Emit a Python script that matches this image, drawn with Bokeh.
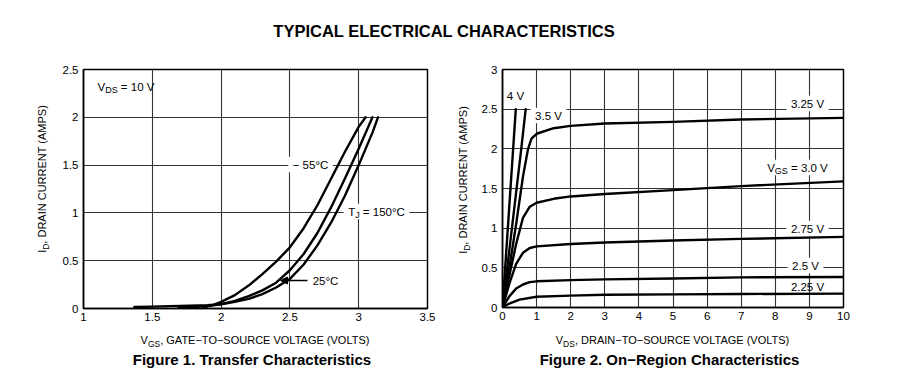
import math
from bokeh.plotting import figure
from bokeh.models import Label, Div, FixedTicker, Arrow, NormalHead, BoxAnnotation
from bokeh.layouts import column, row
from bokeh.embed import file_html
from bokeh.resources import INLINE

TITLE = "TYPICAL ELECTRICAL CHARACTERISTICS"

# ---------------- Figure 1: transfer characteristics (VDS = 10 V) ----------------
vgs_m55 = [1.87, 1.95, 2.0, 2.1, 2.2, 2.3, 2.4, 2.5, 2.6, 2.7, 2.8, 2.9, 3.0, 3.05]
id_m55 = [0.01, 0.04, 0.07, 0.14, 0.24, 0.36, 0.49, 0.64, 0.84, 1.08, 1.36, 1.64, 1.9, 2.0]
vgs_25 = [1.69, 1.8, 1.9, 2.0, 2.1, 2.2, 2.3, 2.4, 2.5, 2.6, 2.7, 2.8, 2.9, 3.0, 3.1]
id_25 = [0.01, 0.015, 0.025, 0.045, 0.08, 0.13, 0.19, 0.27, 0.40, 0.57, 0.79, 1.06, 1.36, 1.67, 2.0]
vgs_150 = [1.37, 1.5, 1.7, 1.9, 2.0, 2.1, 2.2, 2.3, 2.4, 2.5, 2.6, 2.7, 2.8, 2.9, 3.0, 3.1, 3.14]
id_150 = [0.015, 0.02, 0.027, 0.035, 0.045, 0.07, 0.1, 0.15, 0.22, 0.31, 0.46, 0.66, 0.9, 1.18, 1.5, 1.84, 2.0]

f1_xticks = [1, 1.5, 2, 2.5, 3, 3.5]
f1_xlabels = ["1", "1.5", "2", "2.5", "3", "3.5"]
f1_yticks = [0, 0.5, 1, 1.5, 2, 2.5]
f1_ylabels = ["0", "0.5", "1", "1.5", "2", "2.5"]

# ---------------- Figure 2: on-region characteristics ----------------
vds_400 = [0, 0.2, 0.39]
id_400 = [0, 1.28, 2.5]
vds_350 = [0, 0.2, 0.4, 0.55, 0.68]
id_350 = [0, 0.72, 1.45, 2.0, 2.5]
vds_325 = [0, 0.2, 0.4, 0.6, 0.75, 0.85, 1.0, 1.5, 2, 3, 5, 7, 10]
id_325 = [0, 0.5, 1.05, 1.65, 2.0, 2.13, 2.19, 2.26, 2.29, 2.32, 2.34, 2.37, 2.39]
vds_300 = [0, 0.2, 0.4, 0.6, 0.8, 1.0, 1.5, 2, 3, 5, 7, 10]
id_300 = [0, 0.4, 0.8, 1.13, 1.27, 1.32, 1.37, 1.40, 1.43, 1.48, 1.53, 1.59]
vds_275 = [0, 0.2, 0.4, 0.6, 0.8, 1.0, 2, 3, 5, 7, 10]
id_275 = [0, 0.3, 0.55, 0.69, 0.75, 0.77, 0.80, 0.82, 0.845, 0.865, 0.89]
vds_250 = [0, 0.2, 0.4, 0.6, 0.8, 1.0, 2, 3, 5, 7, 10]
id_250 = [0, 0.14, 0.24, 0.29, 0.32, 0.33, 0.345, 0.355, 0.365, 0.38, 0.385]
vds_225 = [0, 0.2, 0.5, 1.0, 2, 3, 5, 7, 10]
id_225 = [0, 0.05, 0.1, 0.135, 0.15, 0.16, 0.165, 0.17, 0.175]

f2_xticks = [0, 1, 2, 3, 4, 5, 6, 7, 8, 9, 10]
f2_xlabels = ["0", "1", "2", "3", "4", "5", "6", "7", "8", "9", "10"]
f2_yticks = [0, 0.5, 1, 1.5, 2, 2.5, 3]
f2_ylabels = ["0", "0.5", "1", "1.5", "2", "2.5", "3"]

# ---------------- styling helpers ----------------
SANS = "Liberation Sans"
W = {' ': 278, ',': 278, '.': 278, '=': 584, '(': 333, ')': 333, '°': 400, '−': 584,
     'A': 667, 'B': 667, 'C': 722, 'D': 722, 'E': 667, 'F': 611, 'G': 778, 'H': 722,
     'I': 278, 'J': 500, 'K': 667, 'L': 556, 'M': 833, 'N': 722, 'O': 778, 'P': 667,
     'Q': 778, 'R': 722, 'S': 667, 'T': 611, 'U': 722, 'V': 667, 'W': 944, 'X': 667,
     'Y': 667, 'Z': 611}


def tw(s, size):
    return sum(W.get(c, 556) for c in s) * size / 1000.0


TOP_H = 48          # title strip height
YL1_W, YL2_W = 50, 40
B1 = dict(bl=33, br=10, bt=20, bb=22)
FW1, FH1 = 344, 239
B2 = dict(bl=25, br=20, bt=21, bb=22)
FW2, FH2 = 341, 238
ROW_H = B1["bt"] + FH1 + B1["bb"]


class Geo:
    def __init__(self, fx0, fy0, fw, fh, xr, yr):
        self.fx0, self.fy0, self.fw, self.fh, self.xr, self.yr = fx0, fy0, fw, fh, xr, yr

    def x(self, px):
        return self.xr[0] + (px - self.fx0) / self.fw * (self.xr[1] - self.xr[0])

    def y(self, py):
        return self.yr[0] + (self.fy0 + self.fh - py) / self.fh * (self.yr[1] - self.yr[0])


def make_fig(xr, yr, xt, xl, yt, yl, fw, fh, b):
    p = figure(output_backend="svg", toolbar_location=None, x_range=xr, y_range=yr,
               frame_width=fw, frame_height=fh, min_border_left=b["bl"],
               min_border_right=b["br"], min_border_top=b["bt"], min_border_bottom=b["bb"])
    p.xaxis.ticker = FixedTicker(ticks=xt)
    p.yaxis.ticker = FixedTicker(ticks=yt)
    p.xaxis.major_label_overrides = {t: s for t, s in zip(xt, xl)}
    p.yaxis.major_label_overrides = {t: s for t, s in zip(yt, yl)}
    for ax in (p.xaxis[0], p.yaxis[0]):
        ax.major_tick_line_color = None
        ax.minor_tick_line_color = None
        ax.major_tick_out = 0
        ax.major_tick_in = 0
        ax.axis_line_color = "black"
        ax.axis_line_width = 1.5
        ax.major_label_text_font = SANS
        ax.major_label_text_font_size = "11.5px"
        ax.major_label_text_color = "black"
    p.xaxis.major_label_standoff = 4
    p.yaxis.major_label_standoff = 5
    p.grid.grid_line_color = "#333333"
    p.grid.grid_line_width = 1.1
    p.outline_line_color = "black"
    p.outline_line_width = 1.5
    p.background_fill_color = "white"
    p.border_fill_color = "white"
    return p


def mask(p, g, cx, cy, w, h):
    p.add_layout(BoxAnnotation(left=g.x(cx - w / 2), right=g.x(cx + w / 2),
                               bottom=g.y(cy + h / 2), top=g.y(cy - h / 2),
                               fill_color="white", fill_alpha=1.0, line_color=None,
                               level="underlay"))


def rich(p, g, px, py, parts, size=11.5, align="center", masked=False):
    subk = 0.78
    widths = [tw(t, size * subk if s else size) for t, s in parts]
    total = sum(widths)
    start = {"left": 0.0, "center": -total / 2.0, "right": -total}[align]
    if masked:
        mask(p, g, px + start + total / 2.0, py, total + 9, size + 4)
    pos = start
    x, y = g.x(px), g.y(py)
    for (t, s), w in zip(parts, widths):
        fs = size * subk if s else size
        lead = len(t) - len(t.lstrip(" "))
        core = t.strip(" ")
        shift = -0.28 * size if s else 0.0
        p.add_layout(Label(x=x, y=y, x_offset=pos + tw(" " * lead, fs), y_offset=shift,
                           text=core, text_align="left", text_baseline="middle",
                           text_font=SANS, text_font_size=f"{fs:.1f}px",
                           text_color="black"))
        pos += w


CURVE = dict(line_color="black", line_width=2.4, line_join="round", line_cap="round")

# ---------------- Figure 1 ----------------
p1 = make_fig((1, 3.5), (0, 2.5), f1_xticks, f1_xlabels, f1_yticks, f1_ylabels, FW1, FH1, B1)
g1 = Geo(YL1_W + B1["bl"], TOP_H + B1["bt"], FW1, FH1, (1, 3.5), (0, 2.5))

rich(p1, g1, 310, 163, [("− 55°C", 0)], masked=True)
rich(p1, g1, 376, 210, [("T", 0), ("J", 1), (" = 150°C", 0)], masked=True)

p1.line(vgs_m55, id_m55, **CURVE)
p1.line(vgs_25, id_25, **CURVE)
p1.line(vgs_150, id_150, **CURVE)

rich(p1, g1, 97, 85, [("V", 0), ("DS", 1), (" = 10 V", 0)], align="left")
rich(p1, g1, 325, 279, [("25°C", 0)])
p1.add_layout(Arrow(end=NormalHead(size=7, fill_color="black", line_color="black"),
                    x_start=g1.x(307), y_start=g1.y(279), x_end=g1.x(280), y_end=g1.y(279),
                    line_color="black", line_width=1.3))

# ---------------- Figure 2 ----------------
p2 = make_fig((0, 10), (0, 3), f2_xticks, f2_xlabels, f2_yticks, f2_ylabels, FW2, FH2, B2)
x2 = YL1_W + B1["bl"] + FW1 + B1["br"] + YL2_W + B2["bl"]
g2 = Geo(x2, TOP_H + B2["bt"], FW2, FH2, (0, 10), (0, 3))

rich(p2, g2, 548, 115, [("3.5 V", 0)], masked=True)
rich(p2, g2, 807, 103, [("3.25 V", 0)], masked=True)
rich(p2, g2, 797, 167, [("V", 0), ("GS", 1), (" = 3.0 V", 0)], masked=True)
rich(p2, g2, 807, 228, [("2.75 V", 0)], masked=True)
rich(p2, g2, 805, 265, [("2.5 V", 0)], masked=True)

for xs, ys in ((vds_400, id_400), (vds_350, id_350), (vds_325, id_325), (vds_300, id_300),
               (vds_275, id_275), (vds_250, id_250), (vds_225, id_225)):
    p2.line(xs, ys, **CURVE)

rich(p2, g2, 515, 95, [("4 V", 0)])
rich(p2, g2, 807, 286, [("2.25 V", 0)])

# ---------------- HTML texts outside the plot frames ----------------
FONT_CSS = "font-family:'Liberation Sans',Arial,sans-serif;color:#000;"
SUB = '<sub style="font-size:8.5px;vertical-align:-3px;line-height:0">{}</sub>'


def ylabel_div(w, cx, cy):
    html = (f'<div style="position:relative;width:{w}px;height:{ROW_H}px;overflow:hidden;{FONT_CSS}'
            f'font-size:11px">'
            f'<div style="position:absolute;left:{cx}px;top:{cy}px;white-space:nowrap;line-height:13px;'
            f'transform:translate(-50%,-50%) rotate(-90deg)">I{SUB.format("D")}, DRAIN CURRENT (AMPS)</div></div>')
    return Div(text=html, width=w, height=ROW_H, margin=(0, 0, 0, 0))


def bottom_div(w, sub, rest, cap):
    html = (f'<div style="width:{w}px;{FONT_CSS}">'
            f'<div style="text-align:center;font-size:11px;line-height:14px;padding-top:4px;white-space:nowrap">'
            f'V{SUB.format(sub)}, {rest}</div>'
            f'<div style="text-align:center;font-size:15px;font-weight:bold;line-height:18px;margin-top:4px;'
            f'padding-right:6px;white-space:nowrap">{cap}</div></div>')
    return Div(text=html, width=w, height=50, margin=(0, 0, 0, 0))


title = Div(text=(f'<div style="width:888px;text-align:center;{FONT_CSS}font-weight:bold;font-size:16.5px;'
                  f'line-height:18px;padding-top:22px">{TITLE}</div>'),
            width=888, height=TOP_H, margin=(0, 0, 0, 0))

yl1 = ylabel_div(YL1_W, 42, 179 - TOP_H)
yl2_x0 = YL1_W + B1["bl"] + FW1 + B1["br"]
yl2 = ylabel_div(YL2_W, 463 - yl2_x0, 180 - TOP_H)

bw1 = 2 * (g1.fx0 + FW1 / 2)
bw2 = 2 * (g2.fx0 + FW2 / 2 - bw1)
bot1 = bottom_div(int(round(bw1)), "GS", "GATE−TO−SOURCE VOLTAGE (VOLTS)",
                  "Figure 1. Transfer Characteristics")
bot2 = bottom_div(int(round(bw2)), "DS", "DRAIN−TO−SOURCE VOLTAGE (VOLTS)",
                  "Figure 2. On−Region Characteristics")

page = column(title,
              row(yl1, p1, yl2, p2, spacing=0),
              row(bot1, bot2, spacing=0),
              spacing=0)
open("out.html", "w").write(file_html(page, INLINE))
